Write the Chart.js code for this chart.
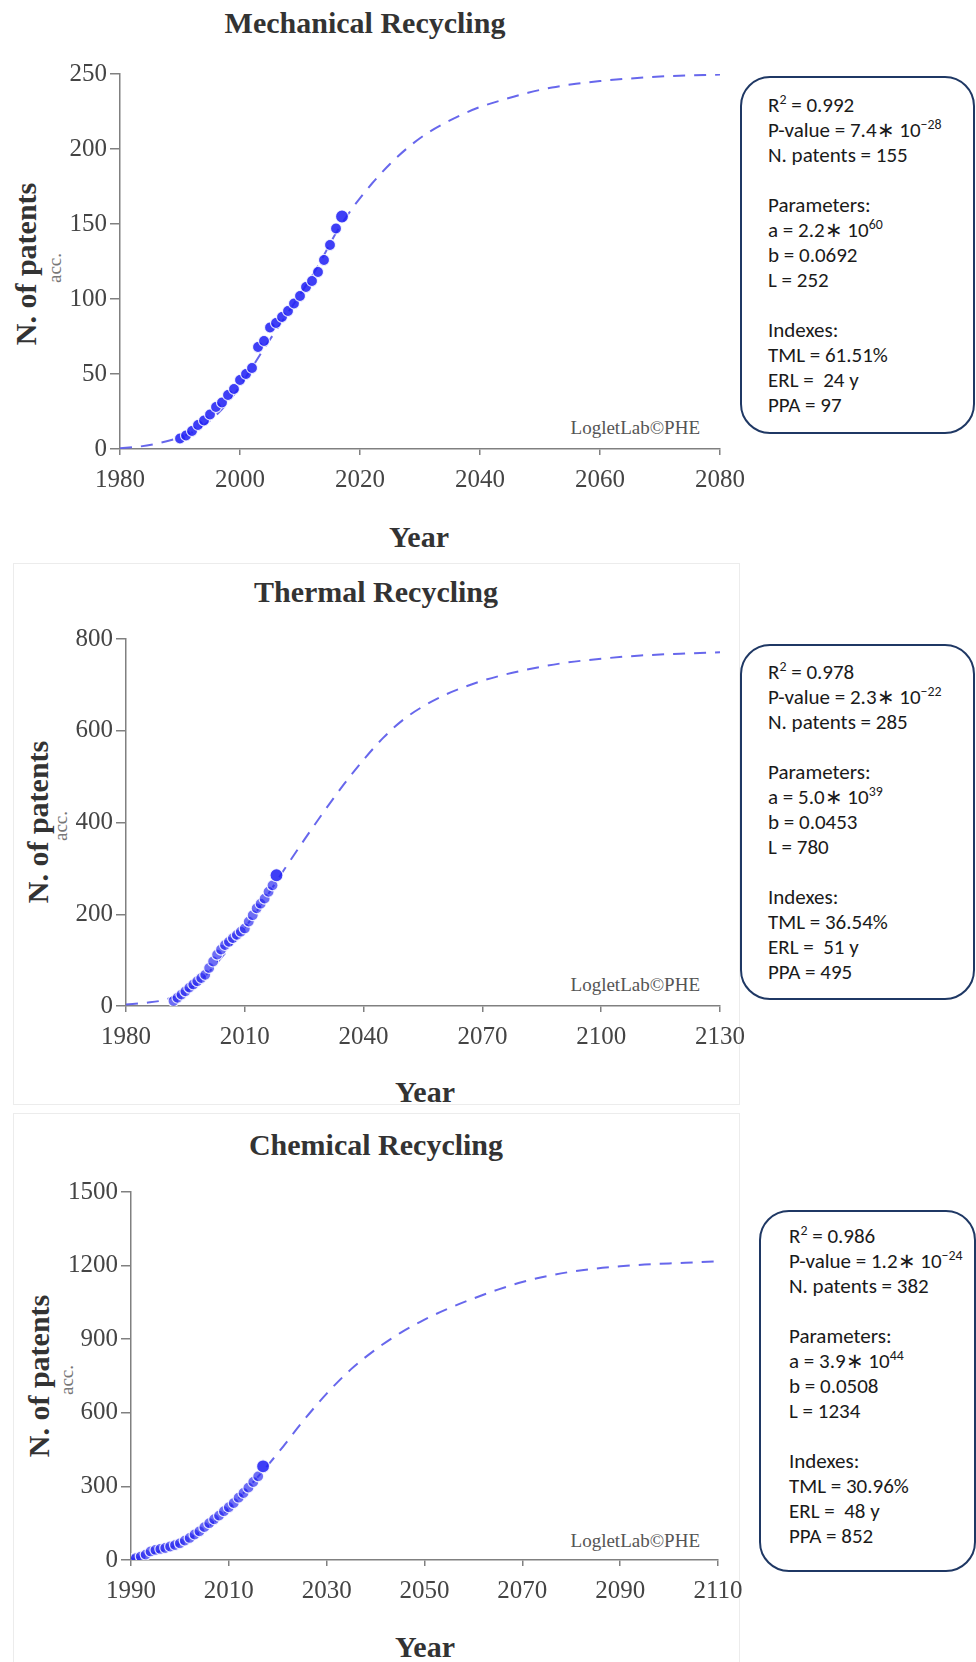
<!DOCTYPE html>
<html><head><meta charset="utf-8">
<script src="https://cdn.jsdelivr.net/npm/chart.js@4.4.1/dist/chart.umd.min.js"></script>
<style>
html,body{margin:0;padding:0;background:#fff;}
body{width:976px;height:1662px;position:relative;overflow:hidden;font-family:'Liberation Serif','Times New Roman',serif;}
.t{position:absolute;transform:translate(-50%,-50%);white-space:nowrap;line-height:1;}
.title{font-weight:bold;font-size:30px;color:#333;}
.ylab{font-weight:bold;font-size:30px;color:#333;transform:translate(-50%,-50%) rotate(-90deg);}
.acc{font-size:19px;color:#777;transform:translate(-50%,-50%) rotate(-90deg);}
.wm{font-size:19px;color:#555;transform:translate(-100%,-50%);}
.panel{position:absolute;border:1px solid #ececec;box-sizing:border-box;}
.box{position:absolute;box-sizing:border-box;border:2px solid #1f3864;border-radius:30px;background:#fff;font-family:Calibri,Carlito,Lato,sans-serif;font-size:21px;line-height:25px;color:#1a1a1a;white-space:pre;z-index:2;}
.box sup{font-size:0.66em;line-height:0;vertical-align:0.6em;}
canvas{position:absolute;left:0;z-index:1;}
</style></head><body>
<script>
// ---------- DATA ----------
const mechYears = [1990,1991,1992,1993,1994,1995,1996,1997,1998,1999,2000,2001,2002,2003,2004,2005,2006,2007,2008,2009,2010,2011,2012,2013,2014,2015,2016,2017];
const mechPatents = [7,9,12,16,19,23,28,31,36,40,46,50,54,68,72,81,84,88,92,97,102,108,112,118,126,136,147,155];
const mechFitYears = [1980,1983,1986,1989,1992,1995,1998,2001,2004,2007,2010,2013,2016,2019,2022,2025,2028,2031,2034,2037,2040,2044,2048,2052,2056,2060,2065,2070,2075,2080];
const mechFit = [0.5,1.5,3.5,6.5,11,19,31,48,67,85,103,122,144,162,177,190,201,210,217,223,228,233,237.5,241,243.5,245.3,247,248.3,249.1,249.6];
const mechXTicks = [1980,2000,2020,2040,2060,2080];
const mechYTicks = [0,50,100,150,200,250];

const thermYears = [1992,1993,1994,1995,1996,1997,1998,1999,2000,2001,2002,2003,2004,2005,2006,2007,2008,2009,2010,2011,2012,2013,2014,2015,2016,2017,2018];
const thermPatents = [11,18,25,32,40,47,54,61,68,83,97,112,123,133,140,148,155,162,169,184,198,213,223,234,249,263,285];
const thermFitYears = [1980,1985,1990,1995,2000,2005,2010,2015,2020,2025,2030,2035,2040,2045,2050,2055,2060,2065,2070,2075,2080,2090,2100,2110,2120,2130];
const thermFit = [3,7,14,32,66,115,170,232,298,362,424,483,537,585,624,653,676,694,709,721,731,747,757,764,768,771];
const thermXTicks = [1980,2010,2040,2070,2100,2130];
const thermYTicks = [0,200,400,600,800];

const chemYears = [1990,1991,1992,1993,1994,1995,1996,1997,1998,1999,2000,2001,2002,2003,2004,2005,2006,2007,2008,2009,2010,2011,2012,2013,2014,2015,2016,2017];
const chemPatents = [4,8,14,22,35,41,45,49,55,61,68,79,90,104,117,134,150,166,181,199,215,232,254,273,295,318,341,382];
const chemFitYears = [1990,1995,2000,2005,2010,2015,2020,2025,2030,2035,2040,2045,2050,2055,2060,2065,2070,2075,2080,2085,2090,2095,2100,2105,2110];
const chemFit = [3,30,68,125,210,318,435,562,678,778,858,925,980,1026,1066,1102,1133,1157,1175,1188,1197,1204,1209,1213,1217];
const chemXTicks = [1990,2010,2030,2050,2070,2090,2110];
const chemYTicks = [0,300,600,900,1200,1500];

const titles = ['Mechanical Recycling','Thermal Recycling','Chemical Recycling'];
const boxTexts = [
  ['R<sup>2</sup> = 0.992','P-value = 7.4\u2217 10<sup>\u221228</sup>','N. patents = 155','','Parameters:','a = 2.2\u2217 10<sup>60</sup>','b = 0.0692','L = 252','','Indexes:','TML = 61.51%','ERL =  24 y','PPA = 97'],
  ['R<sup>2</sup> = 0.978','P-value = 2.3\u2217 10<sup>\u221222</sup>','N. patents = 285','','Parameters:','a = 5.0\u2217 10<sup>39</sup>','b = 0.0453','L = 780','','Indexes:','TML = 36.54%','ERL =  51 y','PPA = 495'],
  ['R<sup>2</sup> = 0.986','P-value = 1.2\u2217 10<sup>\u221224</sup>','N. patents = 382','','Parameters:','a = 3.9\u2217 10<sup>44</sup>','b = 0.0508','L = 1234','','Indexes:','TML = 30.96%','ERL =  48 y','PPA = 852']
];

// ---------- LAYOUT ----------
const CW = 780, PADT = 20, XH = 56;
const geos = [
  {L:120,R:720,T:74,B:449, title:[365,23], year:[419,537], ylab:[26,264], acc:[54,268], wm:[700,427], box:{l:740,t:76,w:235,h:358,pl:26,pt:15}},
  {L:126,R:720,T:639,B:1006, title:[376,592], year:[425,1092], ylab:[38,822], acc:[60,826], wm:[700,984], box:{l:740,t:644,w:235,h:356,pl:26,pt:14}, panel:[13,563,727,542]},
  {L:131,R:718,T:1192,B:1560, title:[376,1145], year:[425,1647], ylab:[39,1376], acc:[66,1380], wm:[700,1540], box:{l:759,t:1210,w:217,h:362,pl:28,pt:12}, panel:[13,1113,727,560]}
];
const sets = [
  {years:mechYears, vals:mechPatents, fy:mechFitYears, fv:mechFit, xt:mechXTicks, yt:mechYTicks, solid:true},
  {years:thermYears, vals:thermPatents, fy:thermFitYears, fv:thermFit, xt:thermXTicks, yt:thermYTicks, solid:false},
  {years:chemYears, vals:chemPatents, fy:chemFitYears, fv:chemFit, xt:chemXTicks, yt:chemYTicks, solid:false}
];

function addText(cls, txt, x, y) {
  const d = document.createElement('div');
  d.className = 't ' + cls;
  d.textContent = txt;
  d.style.left = x + 'px'; d.style.top = y + 'px';
  document.body.appendChild(d);
}

function makeChart(g, s) {
  const c = document.createElement('canvas');
  const H = PADT + (g.B - g.T) + XH;
  c.width = CW; c.height = H;
  c.style.width = CW + 'px'; c.style.height = H + 'px';
  c.style.top = (g.T - PADT) + 'px';
  document.body.appendChild(c);
  const last = s.years.length - 1;
  const axisCol = '#808080';
  const tickFont = {family:"'Liberation Serif','Times New Roman',serif", size:25};
  new Chart(c.getContext('2d'), {
    type: 'scatter',
    data: {datasets: [
      {
        data: s.years.map((y,i)=>({x:y, y:s.vals[i]})),
        order: 0,
        showLine: false,
        pointRadius: ctx => ctx.dataIndex === last ? 6.5 : 5.5,
        pointBackgroundColor: ctx => (s.solid || ctx.dataIndex === last) ? 'rgba(35,35,245,0.88)' : 'rgba(40,40,240,0.68)',
        pointBorderColor: 'rgba(255,255,255,0.85)',
        pointBorderWidth: 1.2
      },
      {
        data: s.fy.map((y,i)=>({x:y, y:s.fv[i]})),
        order: 1,
        showLine: true,
        borderColor: 'rgba(95,95,235,0.95)',
        borderWidth: 2,
        borderDash: [12,9],
        pointRadius: 0,
        cubicInterpolationMode: 'monotone',
        fill: false
      }
    ]},
    options: {
      responsive: false, animation: false, devicePixelRatio: 1,
      layout: {padding: {top: PADT, right: CW - g.R, left: 0, bottom: 0}},
      plugins: {legend:{display:false}, tooltip:{enabled:false}, title:{display:false}},
      scales: {
        x: {
          type: 'linear', min: s.xt[0], max: s.xt[s.xt.length-1],
          afterBuildTicks: sc => { sc.ticks = s.xt.map(v => ({value: v})); },
          afterFit: sc => { sc.height = XH; },
          grid: {display:true, drawOnChartArea:false, drawTicks:true, tickLength:6, color:axisCol, lineWidth:1.5},
          border: {display:true, color:axisCol, width:1.5},
          ticks: {font: tickFont, color:'#444', padding:10, maxRotation:0, autoSkip:false, callback: v => String(v)}
        },
        y: {
          type: 'linear', min: s.yt[0], max: s.yt[s.yt.length-1],
          afterBuildTicks: sc => { sc.ticks = s.yt.map(v => ({value: v})); },
          afterFit: sc => { sc.width = g.L; },
          grid: {display:true, drawOnChartArea:false, drawTicks:true, tickLength:10, color:axisCol, lineWidth:1.5},
          border: {display:true, color:axisCol, width:1.5},
          ticks: {font: tickFont, color:'#444', padding:3, autoSkip:false, callback: v => String(v)}
        }
      }
    }
  });
}

geos.forEach((g, i) => {
  if (g.panel) {
    const p = document.createElement('div');
    p.className = 'panel';
    p.style.left = g.panel[0]+'px'; p.style.top = g.panel[1]+'px';
    p.style.width = g.panel[2]+'px'; p.style.height = g.panel[3]+'px';
    document.body.appendChild(p);
  }
  makeChart(g, sets[i]);
  addText('title', titles[i], g.title[0], g.title[1]);
  addText('title', 'Year', g.year[0], g.year[1]);
  addText('ylab', 'N. of patents', g.ylab[0], g.ylab[1]);
  addText('acc', 'acc.', g.acc[0], g.acc[1]);
  addText('wm', 'LogletLab\u00A9PHE', g.wm[0], g.wm[1]);
  const b = document.createElement('div');
  b.className = 'box';
  b.style.left = g.box.l+'px'; b.style.top = g.box.t+'px';
  b.style.width = g.box.w+'px'; b.style.height = g.box.h+'px';
  b.style.paddingLeft = g.box.pl+'px'; b.style.paddingTop = g.box.pt+'px';
  b.innerHTML = boxTexts[i].map(l => l === '' ? ' ' : l).join('\n');
  document.body.appendChild(b);
});
</script>
</body></html>
